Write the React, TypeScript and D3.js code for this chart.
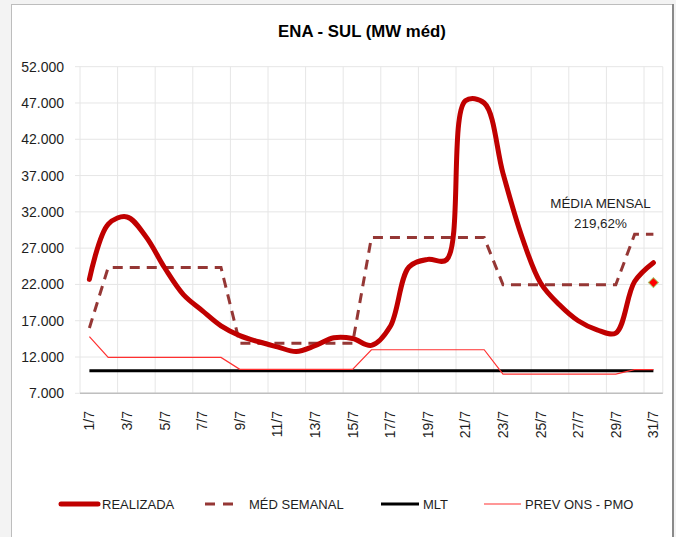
import React from "react";
import * as d3 from "d3";

const days: string[] = Array.from({ length: 31 }, (_, i) => `${i + 1}/7`);
const realizada: number[] = [
  22700, 30300, 31300, 28600, 24300, 20600, 18400, 16300, 14950, 14100,
  13400, 12750, 13550, 14650, 14550, 13600, 16200, 24400, 25450, 25400,
  47300, 47000, 37300, 28600, 22200, 19200, 17000, 15750, 15300, 22400, 25000,
];
const medSemanal: number[] = [
  16000, 24350, 24350, 24350, 24350, 24350, 24350, 24350, 13900, 13900,
  13900, 13900, 13900, 13900, 13900, 28450, 28450, 28450, 28450, 28450,
  28450, 28450, 21950, 21950, 21950, 21950, 21950, 21950, 21950, 28900, 28900,
];
const mlt: number[] = Array.from({ length: 31 }, () => 10100);
const prevOns: number[] = [
  14800, 11950, 11950, 11950, 11950, 11950, 11950, 11950, 10300, 10300,
  10300, 10300, 10300, 10300, 10300, 13000, 13000, 13000, 13000, 13000,
  13000, 13000, 9650, 9650, 9650, 9650, 9650, 9650, 9650, 10250, 10250,
];
const mediaMensalValue = 22250;
const yTicks: number[] = [7000, 12000, 17000, 22000, 27000, 32000, 37000, 42000, 47000, 52000];
const legendItems = ["REALIZADA", "MÉD SEMANAL", "MLT", "PREV ONS - PMO"];

const FONT = "'Liberation Sans', Arial, sans-serif";
const TXT = "#1e1e1e";

export default function App() {
  const W = 676, H = 537;
  const x = d3.scaleBand<string>().domain(days).range([80, 662.8]).paddingInner(0).paddingOuter(0);
  const y = d3.scaleLinear().domain([7000, 52000]).range([393.3, 66.7]);
  const cx = (i: number) => (x(days[i]) as number) + x.bandwidth() / 2;

  const smooth = d3.line<number>().x((_, i) => cx(i)).y((d) => y(d)).curve(d3.curveCatmullRom.alpha(0.5));
  const straight = d3.line<number>().x((_, i) => cx(i)).y((d) => y(d));

  const tickLabel = (v: number) => `${Math.round(v / 1000)}.000`;

  const vGrid = days.map((_, i) => (i % 2 === 0 ? (x(days[i]) as number) : null)).filter((v) => v !== null) as number[];
  vGrid.push(662.8);

  const diamond = d3.symbol().type(d3.symbolSquare).size(50)();
  const legendY = 504;

  return (
    <svg width={W} height={H} style={{ position: "absolute", left: 0, top: 0 }} fontFamily={FONT}>
      <rect x={0} y={0} width={W} height={H} fill="#f3f3f3" />
      <rect x={11.5} y={4.5} width={661} height={540} fill="#ffffff" stroke="#bdbdbd" strokeWidth={1} />
      <line x1={673} y1={4} x2={673} y2={H} stroke="#8a8a8a" strokeWidth={2} />

      <text x={362} y={37} textAnchor="middle" fontWeight="bold" fontSize={16.8} fill="#000">
        ENA - SUL (MW méd)
      </text>

      {/* grid */}
      {yTicks.map((t) => (
        <line key={"h" + t} x1={75} x2={662.8} y1={y(t)} y2={y(t)} stroke="#e6e6e6" strokeWidth={1} />
      ))}
      {vGrid.map((gx, i) => (
        <line key={"v" + i} x1={gx} x2={gx} y1={y(52000)} y2={y(7000)} stroke="#e6e6e6" strokeWidth={1} />
      ))}
      <line x1={80} x2={662.8} y1={y(7000)} y2={y(7000)} stroke="#bfbfbf" strokeWidth={1.5} />

      {/* y labels */}
      {yTicks.map((t) => (
        <text key={"yl" + t} x={64} y={y(t) + 5} textAnchor="end" fontSize={14} fill={TXT}>
          {tickLabel(t)}
        </text>
      ))}
      {/* x labels */}
      {days.map((d, i) =>
        i % 2 === 0 ? (
          <text
            key={"xl" + d}
            transform={`translate(${cx(i) + 5},411) rotate(-90)`}
            textAnchor="end"
            fontSize={14}
            fill={TXT}
          >
            {d}
          </text>
        ) : null
      )}

      {/* series */}
      <path d={straight(mlt) as string} fill="none" stroke="#000" strokeWidth={3} />
      <path d={straight(prevOns) as string} fill="none" stroke="#ff3030" strokeWidth={1.2} />
      <path d={straight(medSemanal) as string} fill="none" stroke="#953735" strokeWidth={3} strokeDasharray="10 7" />
      <path d={smooth(realizada) as string} fill="none" stroke="#c00000" strokeWidth={5} strokeLinecap="round" strokeLinejoin="round" />
      <path
        d={diamond as string}
        transform={`translate(${cx(30)},${y(mediaMensalValue)}) rotate(45)`}
        fill="#ff0000"
        stroke="#a8c86a"
        strokeWidth={1}
      />

      {/* annotation */}
      <text x={600.5} y={207.5} textAnchor="middle" fontSize={13.4} fill={TXT}>MÉDIA MENSAL</text>
      <text x={600.5} y={227.5} textAnchor="middle" fontSize={13.4} fill={TXT}>219,62%</text>

      {/* legend */}
      <line x1={61} x2={98} y1={legendY} y2={legendY} stroke="#c00000" strokeWidth={5} strokeLinecap="round" />
      <text x={102} y={legendY + 5} fontSize={13} fill={TXT}>{legendItems[0]}</text>
      <line x1={205} x2={235} y1={legendY} y2={legendY} stroke="#953735" strokeWidth={3} strokeDasharray="10 8" />
      <text x={249} y={legendY + 5} fontSize={13} fill={TXT}>{legendItems[1]}</text>
      <line x1={381} x2={419} y1={legendY} y2={legendY} stroke="#000" strokeWidth={3} />
      <text x={423} y={legendY + 5} fontSize={13} fill={TXT}>{legendItems[2]}</text>
      <line x1={484} x2={521} y1={legendY} y2={legendY} stroke="#ff3030" strokeWidth={1.2} />
      <text x={525} y={legendY + 5} fontSize={13} fill={TXT}>{legendItems[3]}</text>
    </svg>
  );
}
